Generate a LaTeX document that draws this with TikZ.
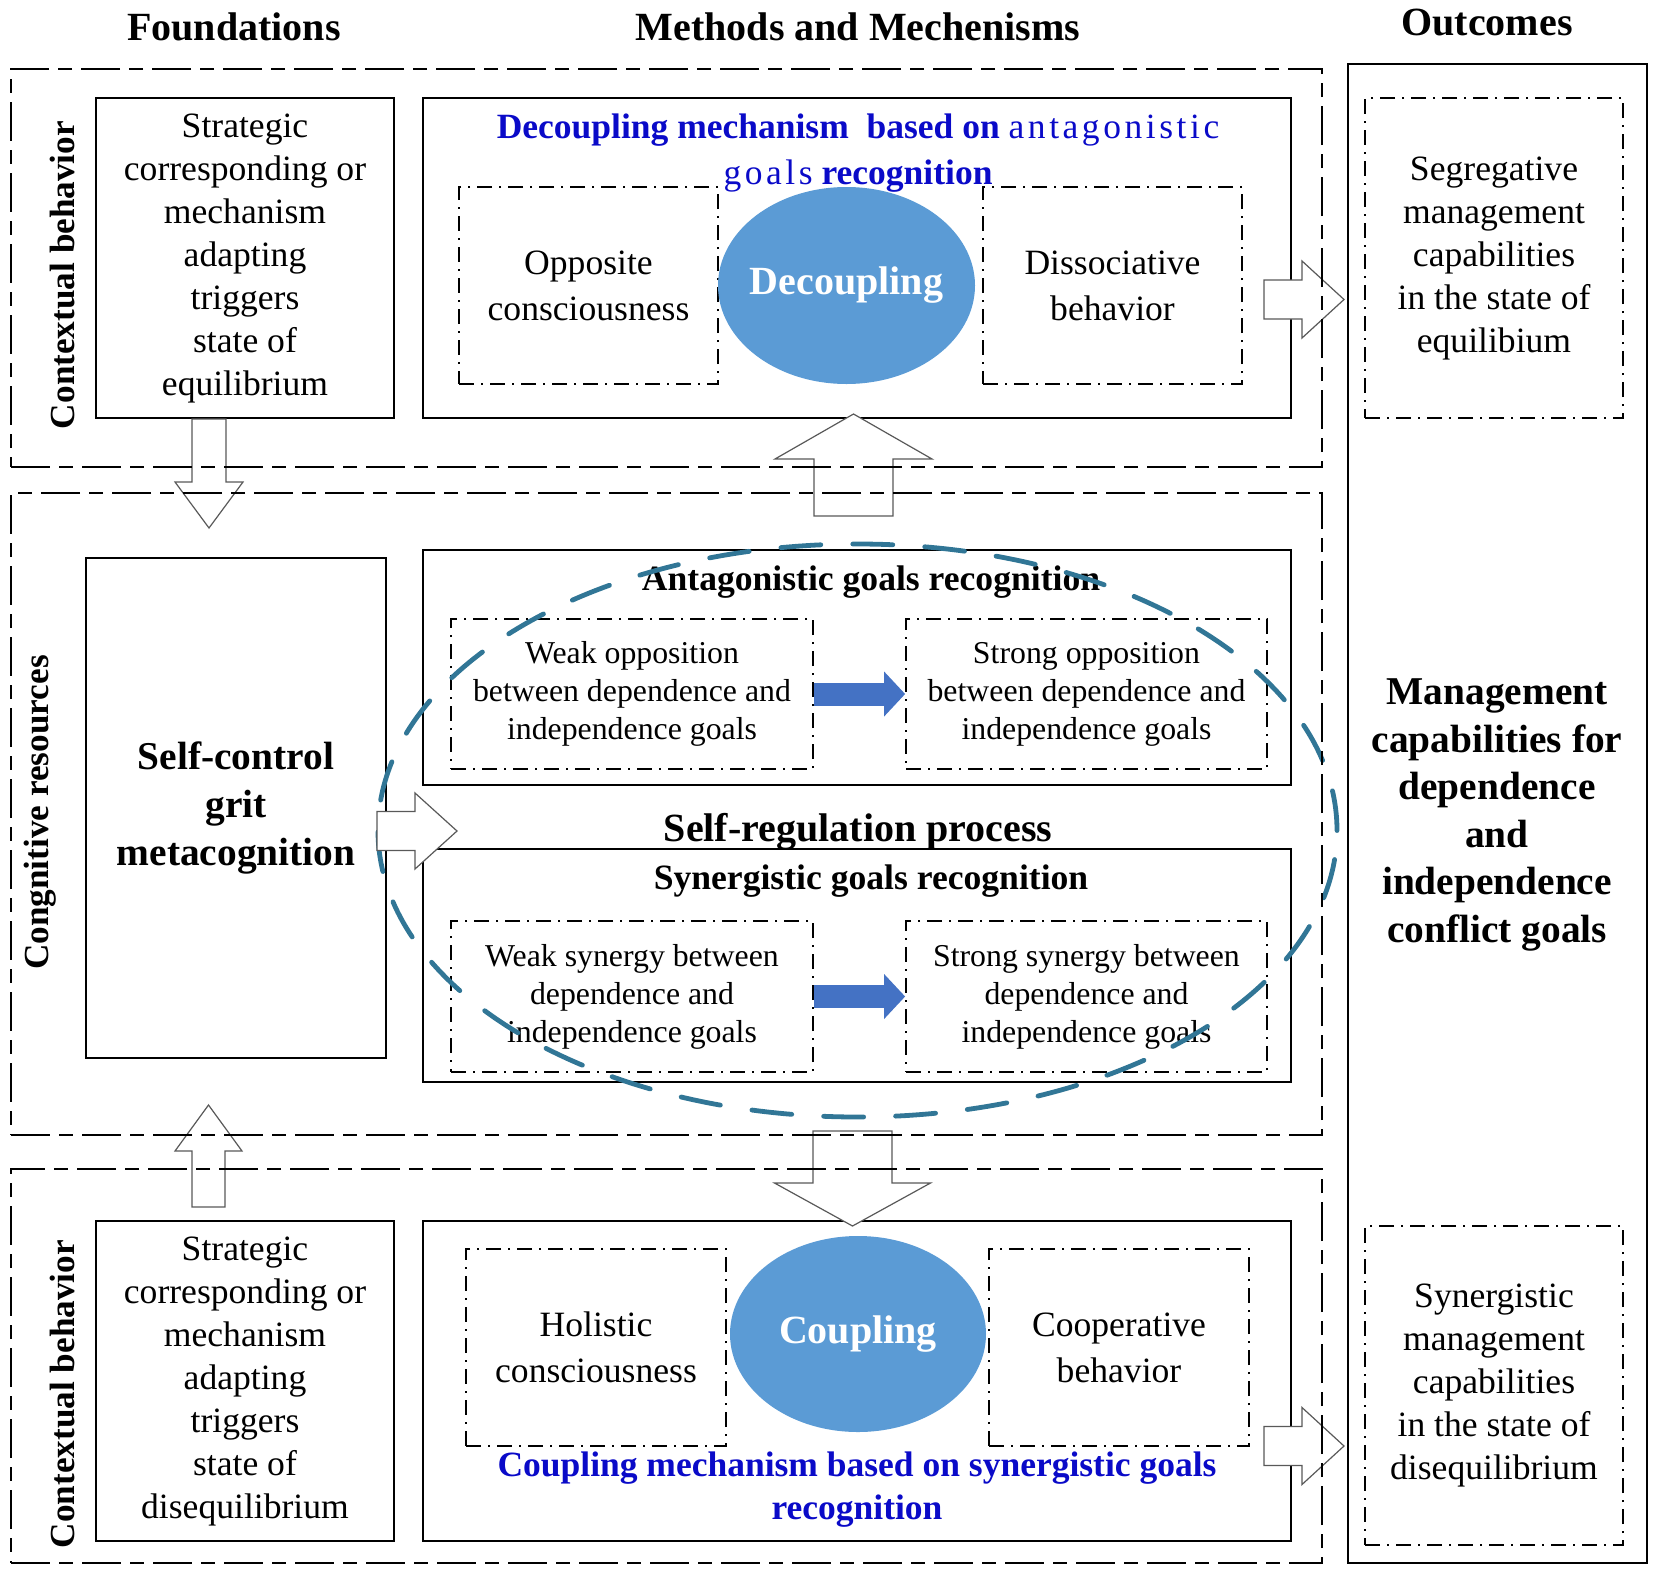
\documentclass[tikz,border=0pt]{standalone}
\usepackage{fontspec}
\setmainfont{Liberation Serif}
\newfontfamily\simfont[LetterSpace=10]{Liberation Serif}
\usetikzlibrary{shapes.geometric,arrows.meta}
\definecolor{coreblue}{RGB}{91,155,213}
\definecolor{arrblue}{RGB}{68,114,196}
\definecolor{loopblue}{RGB}{49,118,150}
\definecolor{titleblue}{RGB}{10,10,200}

\begin{document}
\begin{tikzpicture}[x=0.5pt,y=-0.5pt,
  colhead/.style={font=\fontsize{20}{24}\selectfont\bfseries},
  sidelabel/.style={rotate=90,font=\fontsize{17.6}{21}\selectfont\bfseries},
  solidbox/.style={draw,line width=1pt,inner sep=0pt,align=center},
  dashbox/.style={draw,line width=0.9pt,dash pattern=on 7.5pt off 3.5pt on 1pt off 3.5pt,inner sep=0pt,align=center},
  region/.style={draw,line width=1.3pt,dash pattern=on 19.5pt off 4.5pt on 7pt off 4.5pt,inner sep=0pt},
  txt/.style={font=\fontsize{17.8}{21.5}\selectfont},
  pairtxt/.style={font=\fontsize{17.8}{23}\selectfont},
  smalltxt/.style={font=\fontsize{15.9}{19}\selectfont},
  subhead/.style={font=\fontsize{17.8}{21.5}\selectfont\bfseries},
  bluetitle/.style={text=titleblue,align=center,font=\fontsize{17.75}{23}\selectfont\bfseries},
  core/.style={ellipse,fill=coreblue,inner sep=0pt,
    label={[text=white,font=\fontsize{20}{24}\selectfont\bfseries]center:#1}},
  flow/.style={draw=arrblue,line width=11.5pt,-{Triangle[length=10.5pt,width=22.5pt,line width=0pt]}},
  hollow/.style={draw=black!65,fill=white,line width=0.6pt,line join=miter}]
  \useasboundingbox (0,0) rectangle (1654,1579);
  \node (hfnd) at (234,27) [colhead] {Foundations};
  \node (hmet) at (858,27) [colhead] {Methods and Mechenisms};
  \node (hout) at (1487,23) [colhead] {Outcomes};
  \node (side1) at (63,275) [sidelabel] {Contextual behavior};
  \node (side2) at (40,812.5) [sidelabel] {Congnitive resources};
  \node (side3) at (63,1394) [sidelabel] {Contextual behavior};
  % top row
  \node (fnd1) at (245,258) [solidbox,txt,minimum width=149pt,minimum height=160pt]
    {Strategic\\corresponding or\\mechanism\\adapting\\triggers\\state of\\equilibrium};
  \node (dcbox) at (857,258) [solidbox,minimum width=434pt,minimum height=160pt] {};
  \node (dctitle) at (858,153) [bluetitle]
    {Decoupling mechanism\ \ based on {\simfont\mdseries antagonistic}\\{\simfont\mdseries goals} recognition};
  \node (opp) at (588.5,285.5) [dashbox,pairtxt,minimum width=129.5pt,minimum height=98.5pt] {Opposite\\consciousness};
  \node (dec) at (846.5,285.5) [core=Decoupling,minimum width=128.5pt,minimum height=98.5pt] {};
  \node (dis) at (1112.5,285.5) [dashbox,pairtxt,minimum width=129.5pt,minimum height=98.5pt] {Dissociative\\behavior};
  \node (segr) at (1494,258) [dashbox,txt,minimum width=129pt,minimum height=160pt]
    {Segregative\\management\\capabilities\\in the state of\\equilibium};
  % middle row
  \node (sc) at (236,808) [solidbox,minimum width=150pt,minimum height=250pt,font=\fontsize{19.7}{24}\selectfont\bfseries]
    {Self-control\\grit\\metacognition};
  \node (anta) at (857,667.5) [solidbox,minimum width=434pt,minimum height=117.5pt] {};
  \node (antatitle) at (871,582) [subhead] {Antagonistic goals recognition};
  \node (wopp) at (632,694) [dashbox,smalltxt,minimum width=181pt,minimum height=75pt]
    {Weak opposition\\between dependence and\\independence goals};
  \node (sopp) at (1086.5,694) [dashbox,smalltxt,minimum width=180.5pt,minimum height=75pt]
    {Strong opposition\\between dependence and\\independence goals};
  \node (selfreg) at (858,832) [colhead] {Self-regulation process};
  \node (syn) at (857,965.5) [solidbox,minimum width=434pt,minimum height=116.5pt] {};
  \node (syntitle) at (871,881) [subhead] {Synergistic goals recognition};
  \node (wsyn) at (632,996.5) [dashbox,smalltxt,minimum width=181pt,minimum height=75.5pt]
    {Weak synergy between\\dependence and\\independence goals};
  \node (ssyn) at (1086.5,996.5) [dashbox,smalltxt,minimum width=180.5pt,minimum height=75.5pt]
    {Strong synergy between\\dependence and\\independence goals};
  \draw[flow] (wopp) -- (sopp);
  \draw[flow] (wsyn) -- (ssyn);
  \node (mgmt) at (1497,815) [align=center,font=\fontsize{19.7}{23.75}\selectfont\bfseries]
    {Management\\capabilities for\\dependence\\and\\independence\\conflict goals};
  % bottom row
  \node (fnd2) at (245,1381) [solidbox,txt,minimum width=149pt,minimum height=160pt]
    {Strategic\\corresponding or\\mechanism\\adapting\\triggers\\state of\\disequilibrium};
  \node (cpbox) at (857,1381) [solidbox,minimum width=434pt,minimum height=160pt] {};
  \node (hol) at (596,1347.5) [dashbox,pairtxt,minimum width=130pt,minimum height=98.5pt] {Holistic\\consciousness};
  \node (cp) at (858,1334) [core=Coupling,minimum width=128pt,minimum height=98pt] {};
  \node (coop) at (1119,1347.5) [dashbox,pairtxt,minimum width=130pt,minimum height=98.5pt] {Cooperative\\behavior};
  \node (cptitle) at (857,1490) [bluetitle,font=\fontsize{17.75}{21.5}\selectfont\bfseries]
    {Coupling mechanism based on synergistic goals\\recognition};
  \node (syng) at (1494,1385.5) [dashbox,txt,minimum width=129pt,minimum height=159.5pt]
    {Synergistic\\management\\capabilities\\in the state of\\disequilibrium};
  \node (loop) at (857.5,830.5) [ellipse,draw=loopblue,line width=2.4pt,dash pattern=on 20pt off 16pt,line cap=round,
    minimum width=479.5pt,minimum height=286.5pt] {};
  % block arrows
  \draw[hollow] (fnd1.south) ++(-53,0) -- ++(0,63) -- ++(-17,0) -- ++(34,46) -- ++(34,-46) -- ++(-17,0) -- ++(0,-63) -- cycle;
  \draw[hollow] (dcbox.south) ++(-3.5,-5) -- ++(78.5,45) -- ++(-39,0) -- ++(0,57) -- ++(-79,0) -- ++(0,-57) -- ++(-39,0) -- cycle;
  \draw[hollow] (cpbox.north) ++(-4.5,6) -- ++(-78,-43) -- ++(38.5,0) -- ++(0,-52) -- ++(79,0) -- ++(0,52) -- ++(38.5,0) -- cycle;
  \draw[hollow] (fnd2.north) ++(-36.5,-115) -- ++(33.5,46) -- ++(-17,0) -- ++(0,56) -- ++(-33,0) -- ++(0,-56) -- ++(-17,0) -- cycle;
  \draw[hollow] (sc.east) ++(-10,3.5) -- ++(38,0) -- ++(0,-18.5) -- ++(42,38) -- ++(-42,38) -- ++(0,-18.5) -- ++(-38,0) -- cycle;
  \draw[hollow] (dcbox.east) ++(-28,22) -- ++(38,0) -- ++(0,-19) -- ++(42,38.5) -- ++(-42,38.5) -- ++(0,-19) -- ++(-38,0) -- cycle;
  \draw[hollow] (cpbox.east) ++(-28,45.5) -- ++(38,0) -- ++(0,-19) -- ++(42,38.5) -- ++(-42,38.5) -- ++(0,-19) -- ++(-38,0) -- cycle;
  % frames
  \node (rtop) at (666.5,268) [region,minimum width=655.5pt,minimum height=199pt] {};
  \node (rmid) at (666.5,814) [region,minimum width=655.5pt,minimum height=321pt] {};
  \node (rbot) at (666.5,1366) [region,minimum width=655.5pt,minimum height=197pt] {};
  \node (outc) at (1497.5,813.5) [solidbox,line width=1.3pt,minimum width=149.5pt,minimum height=749.5pt] {};
\end{tikzpicture}
\end{document}
